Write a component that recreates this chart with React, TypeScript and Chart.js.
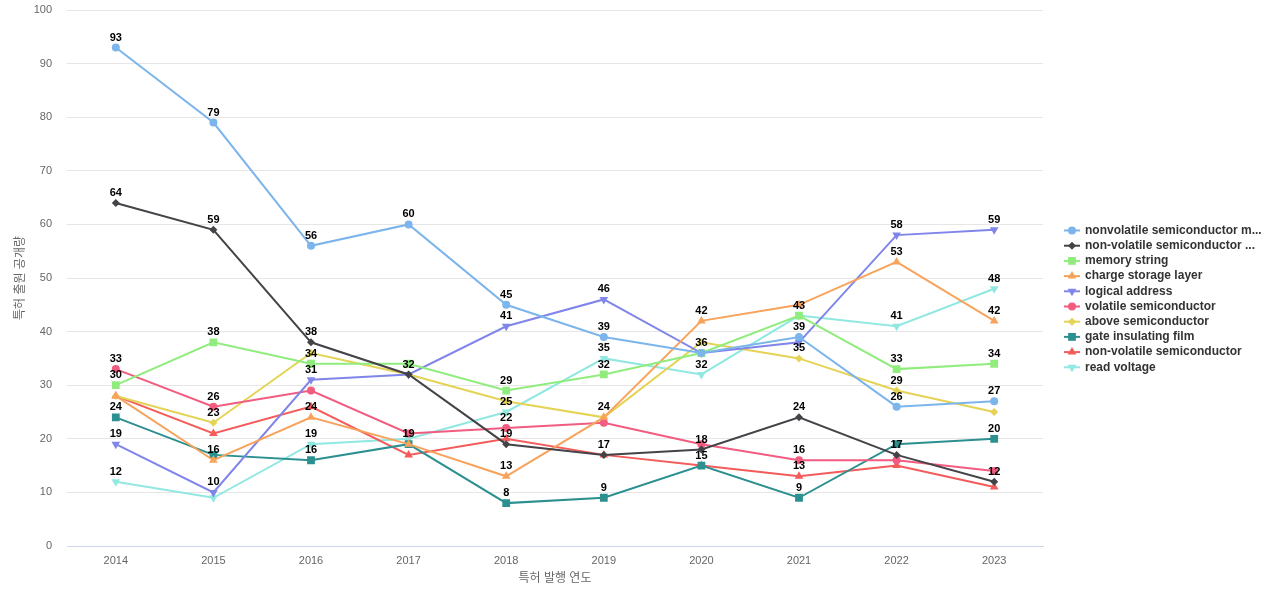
import React, { useEffect, useRef } from "react";
import { Chart, registerables } from "chart.js";

Chart.register(...registerables);

const years = ["2014", "2015", "2016", "2017", "2018", "2019", "2020", "2021", "2022", "2023"];

const nonvolatileMemory = [93, 79, 56, 60, 45, 39, 36, 39, 26, 27];
const nonVolatileSemi2 = [64, 59, 38, 32, 19, 17, 18, 24, 17, 12];
const memoryString = [30, 38, 34, 34, 29, 32, 36, 43, 33, 34];
const chargeStorage = [28, 16, 24, 19, 13, 24, 42, 45, 53, 42];
const logicalAddress = [19, 10, 31, 32, 41, 46, 36, 38, 58, 59];
const volatileSemi = [33, 26, 29, 21, 22, 23, 19, 16, 16, 14];
const aboveSemi = [28, 23, 36, 32, 27, 24, 38, 35, 29, 25];
const gateFilm = [24, 17, 16, 19, 8, 9, 15, 9, 19, 20];
const nonVolatileSemi = [28, 21, 26, 17, 20, 17, 15, 13, 15, 11];
const readVoltage = [12, 9, 19, 20, 25, 35, 32, 43, 41, 48];

const seriesNames = [
  "nonvolatile semiconductor m...",
  "non-volatile semiconductor ...",
  "memory string",
  "charge storage layer",
  "logical address",
  "volatile semiconductor",
  "above semiconductor",
  "gate insulating film",
  "non-volatile semiconductor",
  "read voltage",
];
const seriesData = [
  nonvolatileMemory, nonVolatileSemi2, memoryString, chargeStorage, logicalAddress,
  volatileSemi, aboveSemi, gateFilm, nonVolatileSemi, readVoltage,
];
const colors = ["#7cb5ec", "#434348", "#90ed7d", "#f7a35c", "#8085e9", "#f15c80", "#e4d354", "#2b908f", "#f45b5b", "#91e8e1"];
const styles = ["circle", "rectRot", "rect", "triangle", "triangle", "circle", "rectRot", "rect", "triangle", "triangle"];
const rotations = [0, 0, 0, 0, 180, 0, 0, 0, 0, 180];
const radii = [4, 4, 5.5, 5, 5, 4, 4, 5.5, 5, 5];

const FONT = "'Liberation Sans', 'Noto Sans CJK KR', sans-serif";

const labelPlugin = {
  id: "pointLabels",
  afterDatasetsDraw(chart: any) {
    const ctx = chart.ctx;
    ctx.save();
    ctx.font = `bold 11px ${FONT}`;
    ctx.fillStyle = "#000";
    ctx.textAlign = "center";
    ctx.textBaseline = "middle";
    const placed: { x1: number; x2: number; y1: number; y2: number }[] = [];
    chart.data.datasets.forEach((ds: any, di: number) => {
      const meta = chart.getDatasetMeta(di);
      meta.data.forEach((pt: any, i: number) => {
        const text = String(ds.data[i]);
        const w = ctx.measureText(text).width;
        const cx = pt.x;
        const cy = pt.y - 10;
        const box = { x1: cx - w / 2, x2: cx + w / 2, y1: cy - 6, y2: cy + 6 };
        const hit = placed.some((b) => box.x1 < b.x2 && box.x2 > b.x1 && box.y1 < b.y2 && box.y2 > b.y1);
        if (hit) return;
        placed.push(box);
        ctx.fillText(text, cx, cy);
      });
    });
    ctx.restore();
  },
};

function drawMarker(ctx: CanvasRenderingContext2D, style: string, r: number, rot: number, x: number, y: number, color: string) {
  ctx.save();
  ctx.fillStyle = color;
  ctx.translate(x, y);
  ctx.rotate((rot * Math.PI) / 180);
  ctx.beginPath();
  if (style === "circle") {
    ctx.arc(0, 0, r, 0, Math.PI * 2);
  } else if (style === "rect") {
    const s = Math.SQRT1_2 * r;
    ctx.rect(-s, -s, 2 * s, 2 * s);
  } else if (style === "rectRot") {
    ctx.moveTo(0, -r);
    ctx.lineTo(r, 0);
    ctx.lineTo(0, r);
    ctx.lineTo(-r, 0);
    ctx.closePath();
  } else {
    const a = (Math.PI * 2) / 3;
    ctx.moveTo(0, -r);
    ctx.lineTo(Math.sin(a) * r, -Math.cos(a) * r);
    ctx.lineTo(Math.sin(2 * a) * r, -Math.cos(2 * a) * r);
    ctx.closePath();
  }
  ctx.fill();
  ctx.restore();
}

const legendPlugin = {
  id: "sideLegend",
  afterDraw(chart: any) {
    const ctx = chart.ctx;
    ctx.save();
    const x0 = 1064;
    const y0 = 230.5;
    const step = 15.2;
    ctx.font = `bold 12px ${FONT}`;
    ctx.textBaseline = "middle";
    ctx.textAlign = "left";
    seriesNames.forEach((name, i) => {
      const y = y0 + i * step;
      ctx.strokeStyle = colors[i];
      ctx.lineWidth = 2;
      ctx.beginPath();
      ctx.moveTo(x0, y);
      ctx.lineTo(x0 + 16, y);
      ctx.stroke();
      drawMarker(ctx, styles[i], radii[i], rotations[i], x0 + 8, y, colors[i]);
      ctx.fillStyle = "#333333";
      ctx.fillText(name, x0 + 21, y);
    });
    ctx.restore();
  },
};

export default function App() {
  const ref = useRef<HTMLCanvasElement | null>(null);
  useEffect(() => {
    if (!ref.current) return;
    const chart = new Chart(ref.current, {
      type: "line",
      data: {
        labels: years,
        datasets: seriesNames.map((name, i) => ({
          label: name,
          data: seriesData[i],
          borderColor: colors[i],
          backgroundColor: colors[i],
          borderWidth: 2,
          pointStyle: styles[i] as any,
          pointRotation: rotations[i],
          pointRadius: radii[i],
          pointBorderWidth: 0,
          pointBackgroundColor: colors[i],
          tension: 0,
        })),
      },
      options: {
        animation: false,
        responsive: false,
        maintainAspectRatio: false,
        layout: { padding: { top: 0, right: 237, left: 0, bottom: 0 } },
        plugins: {
          legend: { display: false },
          tooltip: { enabled: false },
        },
        scales: {
          x: {
            offset: true,
            grid: { display: false, drawTicks: false },
            border: { display: true, color: "#ccd6eb", width: 1 },
            ticks: { color: "#666666", font: { family: FONT, size: 11 }, padding: 8 },
            title: {
              display: true,
              text: "특허 발행 연도",
              color: "#666666",
              font: { family: FONT, size: 12 },
              padding: { top: 0, bottom: 14 },
            },
            afterFit: (s: any) => { s.height = 54; },
          },
          y: {
            min: 0,
            max: 100,
            ticks: { stepSize: 10, color: "#666666", font: { family: FONT, size: 11 }, padding: 15 },
            grid: { color: "#e6e6e6", drawTicks: false },
            border: { display: false },
            title: {
              display: true,
              text: "특허 출원 공개량",
              color: "#666666",
              font: { family: FONT, size: 12 },
              padding: { top: 13, bottom: 0 },
            },
            afterFit: (s: any) => {
              s.width = 67;
              s.paddingTop = 10;
              s.paddingBottom = 0;
            },
          },
        },
      },
      plugins: [labelPlugin, legendPlugin],
    });
    return () => chart.destroy();
  }, []);
  return (
    <div style={{ position: "fixed", left: 0, top: 0, width: 1280, height: 600, background: "#fff" }}>
      <canvas ref={ref} width={1280} height={600} style={{ width: 1280, height: 600 }} />
    </div>
  );
}
